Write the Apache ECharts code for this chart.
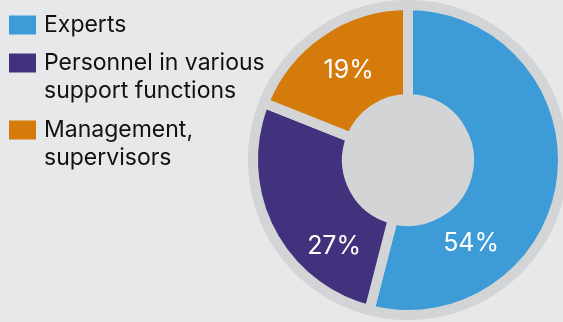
<!DOCTYPE html>
<html>
<head>
<meta charset="utf-8">
<script src="https://cdn.jsdelivr.net/npm/echarts@6/dist/echarts.min.js"></script>
<style>
html,body{margin:0;padding:0;background:#e7e8ea;}
#c{width:563px;height:322px;}
</style>
</head>
<body>
<div id="c"></div>
<script>
const categories = ["Experts", "Personnel in various\nsupport functions", "Management,\nsupervisors"];
const values = [54, 27, 19];
const colors = ["#3d9bd7", "#42317d", "#d57b0b"];

const BG = "#e7e8ea";
const RING = "#d3d4d6";
const FONT = "Inter, Roboto, sans-serif";
const LINE_H = 28;

const labelOffsets = [[-47, 70], [25, 36], [3, 2]];

const chart = echarts.init(document.getElementById('c'), null, {renderer: 'canvas'});

const legendTops = [11, 49, 116];
const legends = categories.map((name, i) => {
  const lines = name.split("\n").length;
  const h = 19 + (lines - 1) * LINE_H;
  return {
    show: true,
    orient: 'vertical',
    left: 9,
    top: legendTops[i],
    itemWidth: 27,
    itemHeight: h,
    itemGap: 0,
    padding: 0,
    selectedMode: false,
    icon: 'path://M0,0h27v19h-27z M0,' + (h - 0.01) + 'h0.01v0.01h-0.01z',
    itemStyle: {borderWidth: 0},
    data: [name],
    textStyle: {
      fontFamily: FONT,
      fontSize: 23,
      color: '#111',
      lineHeight: LINE_H,
      padding: [0, 0, 0, 3]
    }
  };
});

chart.setOption({
  backgroundColor: BG,
  animation: false,
  color: colors,
  legend: legends,
  series: [
    {
      type: 'pie',
      center: [408, 160],
      radius: [0, 160],
      silent: true,
      label: {show: false},
      labelLine: {show: false},
      itemStyle: {color: RING},
      data: [{value: 1, name: '__ring'}],
      z: 1
    },
    {
      type: 'pie',
      center: [408, 160],
      radius: [61, 155],
      startAngle: 90,
      clockwise: true,
      silent: true,
      z: 2,
      itemStyle: {borderColor: RING, borderWidth: 10},
      label: {
        show: true,
        position: 'inside',
        formatter: p => p.value + '%',
        color: '#fff',
        fontFamily: FONT,
        fontSize: 25
      },
      labelLine: {show: false},
      data: categories.map((n, i) => ({
        name: n,
        value: values[i],
        label: {offset: labelOffsets[i]}
      }))
    }
  ]
});
</script>
</body>
</html>
